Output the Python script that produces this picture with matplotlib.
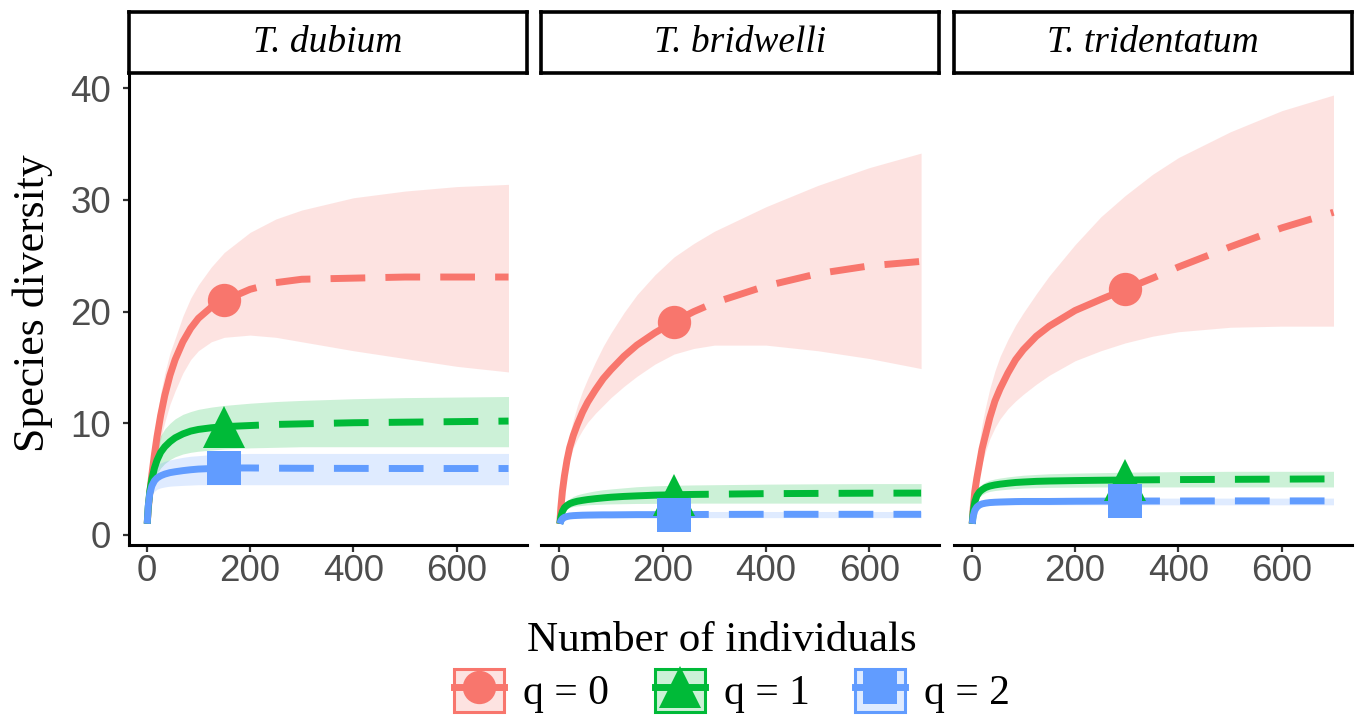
import matplotlib.pyplot as plt
from matplotlib.colors import to_rgb
from matplotlib.lines import Line2D
from matplotlib.patches import Patch

# ---- data ----
panels = ["T. dubium", "T. bridwelli", "T. tridentatum"]
q_labels = ["q = 0", "q = 1", "q = 2"]

# T. dubium
dub_x = [1, 3, 6, 10, 15, 20, 27, 35, 45, 55, 70, 85, 100, 125, 150, 200, 250, 300, 400, 500, 600, 700]
dub_obs = 150
dub_q0 = [1, 2.3, 3.8, 5.4, 7.2, 8.8, 10.7, 12.5, 14.3, 15.7, 17.3, 18.5, 19.4, 20.4, 21.0, 22.0, 22.6, 22.9, 23.0, 23.1, 23.1, 23.1]
dub_q0_lo = [1, 2.0, 3.2, 4.5, 5.9, 7.1, 8.6, 10.1, 11.7, 12.9, 14.5, 15.7, 16.5, 17.3, 17.7, 17.9, 17.7, 17.3, 16.5, 15.8, 15.1, 14.6]
dub_q0_hi = [1, 2.6, 4.3, 6.3, 8.7, 10.6, 12.7, 14.5, 16.3, 17.6, 19.6, 21.2, 22.4, 24.0, 25.3, 27.1, 28.3, 29.1, 30.2, 30.8, 31.2, 31.4]
dub_q1 = [1, 2.5, 3.9, 5.0, 6.0, 6.7, 7.4, 7.9, 8.35, 8.7, 9.05, 9.3, 9.45, 9.6, 9.7, 9.8, 9.9, 9.95, 10.05, 10.1, 10.15, 10.2]
dub_q1_lo = [1, 2.1, 3.1, 4.0, 4.9, 5.5, 6.0, 6.4, 6.75, 7.0, 7.25, 7.4, 7.5, 7.6, 7.7, 7.8, 7.85, 7.9, 7.9, 7.9, 7.9, 7.9]
dub_q1_hi = [1, 2.9, 4.7, 6.1, 7.3, 8.1, 8.9, 9.5, 10.0, 10.4, 10.8, 11.05, 11.25, 11.45, 11.6, 11.8, 11.95, 12.05, 12.2, 12.3, 12.35, 12.4]
dub_q2 = [1, 2.6, 3.7, 4.4, 4.85, 5.1, 5.3, 5.45, 5.58, 5.66, 5.76, 5.84, 5.9, 5.95, 6.0, 6.0, 5.98, 5.97, 5.96, 5.95, 5.95, 5.95]
dub_q2_lo = [1, 2.2, 3.1, 3.6, 3.9, 4.1, 4.22, 4.3, 4.37, 4.4, 4.44, 4.47, 4.5, 4.5, 4.5, 4.5, 4.5, 4.5, 4.5, 4.5, 4.5, 4.5]
dub_q2_hi = [1, 3.0, 4.4, 5.3, 5.85, 6.2, 6.45, 6.6, 6.72, 6.82, 6.95, 7.05, 7.1, 7.2, 7.25, 7.3, 7.3, 7.3, 7.3, 7.3, 7.3, 7.3]

# T. bridwelli
bri_x = [1, 3, 6, 10, 15, 20, 27, 35, 45, 55, 70, 85, 100, 125, 150, 185, 222, 260, 300, 400, 500, 600, 700]
bri_obs = 222
bri_q0 = [1, 2.4, 3.9, 5.3, 6.7, 7.8, 8.9, 9.9, 11.0, 11.9, 13.0, 14.0, 14.8, 16.0, 17.0, 18.1, 19.1, 20.0, 20.8, 22.3, 23.4, 24.1, 24.5]
bri_q0_lo = [1, 2.2, 3.5, 4.7, 5.9, 6.8, 7.8, 8.6, 9.4, 10.1, 10.9, 11.6, 12.3, 13.3, 14.2, 15.3, 16.2, 16.7, 17.0, 17.0, 16.5, 15.8, 14.9]
bri_q0_hi = [1, 2.6, 4.3, 6.0, 7.7, 9.0, 10.3, 11.6, 12.9, 14.0, 15.5, 16.9, 18.1, 19.9, 21.5, 23.3, 24.9, 26.1, 27.2, 29.4, 31.3, 32.9, 34.2]
bri_q1 = [1, 1.6, 2.1, 2.45, 2.65, 2.8, 2.92, 3.02, 3.1, 3.17, 3.25, 3.32, 3.38, 3.45, 3.5, 3.56, 3.6, 3.63, 3.65, 3.7, 3.72, 3.74, 3.75]
bri_q1_lo = [1, 1.45, 1.85, 2.15, 2.35, 2.45, 2.55, 2.6, 2.65, 2.7, 2.73, 2.76, 2.78, 2.8, 2.82, 2.83, 2.84, 2.85, 2.85, 2.85, 2.85, 2.85, 2.85]
bri_q1_hi = [1, 1.75, 2.35, 2.8, 3.05, 3.25, 3.45, 3.6, 3.72, 3.82, 3.95, 4.05, 4.12, 4.22, 4.32, 4.4, 4.45, 4.48, 4.5, 4.55, 4.58, 4.6, 4.6]
bri_q2 = [1, 1.25, 1.45, 1.58, 1.65, 1.7, 1.73, 1.75, 1.77, 1.78, 1.79, 1.8, 1.8, 1.81, 1.82, 1.82, 1.83, 1.83, 1.84, 1.85, 1.85, 1.85, 1.85]
bri_q2_lo = [1, 1.12, 1.28, 1.4, 1.46, 1.5, 1.52, 1.53, 1.54, 1.55, 1.55, 1.55, 1.55, 1.55, 1.55, 1.55, 1.55, 1.55, 1.55, 1.55, 1.55, 1.55, 1.55]
bri_q2_hi = [1, 1.38, 1.65, 1.82, 1.92, 1.98, 2.02, 2.05, 2.07, 2.08, 2.09, 2.1, 2.1, 2.1, 2.1, 2.1, 2.1, 2.1, 2.1, 2.1, 2.1, 2.1, 2.1]

# T. tridentatum
tri_x = [1, 3, 6, 10, 15, 20, 27, 35, 45, 55, 70, 85, 100, 125, 150, 200, 250, 297, 350, 400, 500, 600, 700]
tri_obs = 297
tri_q0 = [1, 2.4, 3.9, 5.1, 6.4, 7.7, 9.0, 10.5, 12.0, 13.1, 14.5, 15.7, 16.6, 17.8, 18.7, 20.1, 21.1, 22.0, 23.0, 24.0, 25.8, 27.5, 28.9]
tri_q0_lo = [1, 2.1, 3.3, 4.4, 5.5, 6.4, 7.5, 8.6, 9.6, 10.4, 11.3, 12.0, 12.6, 13.5, 14.3, 15.6, 16.5, 17.2, 17.8, 18.2, 18.6, 18.7, 18.7]
tri_q0_hi = [1, 2.7, 4.6, 6.6, 8.4, 9.9, 11.5, 13.1, 14.7, 16.0, 17.5, 18.8, 19.9, 21.6, 23.2, 26.0, 28.5, 30.4, 32.3, 33.8, 36.1, 38.0, 39.4]
tri_q1 = [1, 2.1, 2.95, 3.5, 3.85, 4.05, 4.25, 4.38, 4.48, 4.55, 4.63, 4.7, 4.74, 4.8, 4.83, 4.87, 4.9, 4.92, 4.94, 4.96, 4.98, 5.0, 5.02]
tri_q1_lo = [1, 1.9, 2.6, 3.1, 3.4, 3.6, 3.78, 3.9, 3.98, 4.03, 4.1, 4.15, 4.2, 4.23, 4.26, 4.28, 4.3, 4.3, 4.3, 4.3, 4.3, 4.3, 4.3]
tri_q1_hi = [1, 2.3, 3.3, 3.9, 4.3, 4.55, 4.75, 4.9, 5.02, 5.1, 5.2, 5.28, 5.35, 5.42, 5.48, 5.54, 5.58, 5.62, 5.65, 5.67, 5.7, 5.7, 5.7]
tri_q2 = [1, 1.7, 2.2, 2.5, 2.68, 2.78, 2.85, 2.9, 2.93, 2.95, 2.97, 2.99, 3.0, 3.0, 3.0, 3.02, 3.03, 3.03, 3.04, 3.04, 3.05, 3.05, 3.05]
tri_q2_lo = [1, 1.55, 1.95, 2.25, 2.45, 2.55, 2.62, 2.66, 2.7, 2.7, 2.7, 2.7, 2.7, 2.7, 2.7, 2.7, 2.7, 2.7, 2.7, 2.7, 2.7, 2.7, 2.7]
tri_q2_hi = [1, 1.85, 2.45, 2.75, 2.95, 3.05, 3.15, 3.2, 3.24, 3.27, 3.3, 3.3, 3.3, 3.3, 3.3, 3.3, 3.3, 3.3, 3.3, 3.3, 3.3, 3.3, 3.3]

colors = ["#F8766D", "#00BA38", "#619CFF"]
markers = ["o", "^", "s"]
msizes = [24, 30, 24]

panel_data = [
    (dub_x, dub_obs, [(dub_q0, dub_q0_lo, dub_q0_hi), (dub_q1, dub_q1_lo, dub_q1_hi), (dub_q2, dub_q2_lo, dub_q2_hi)]),
    (bri_x, bri_obs, [(bri_q0, bri_q0_lo, bri_q0_hi), (bri_q1, bri_q1_lo, bri_q1_hi), (bri_q2, bri_q2_lo, bri_q2_hi)]),
    (tri_x, tri_obs, [(tri_q0, tri_q0_lo, tri_q0_hi), (tri_q1, tri_q1_lo, tri_q1_hi), (tri_q2, tri_q2_lo, tri_q2_hi)]),
]

LW = 5.0
DASH = (5.0, 2.9)

fig = plt.figure(figsize=(13.56, 7.17), dpi=100)
W, H = 1356, 717
lefts = [128.6, 541.2, 953.6]
pw = 398
ax_bot = 1 - 545 / H
ax_h = (545 - 72.7) / H
strip_bot = 1 - 72.7 / H
strip_h = (72.7 - 12) / H

for i, (x, obs, curves) in enumerate(panel_data):
    ax = fig.add_axes([lefts[i] / W, ax_bot, pw / W, ax_h])
    k = x.index(obs)
    # ribbons first, then lines, then observed points
    for (y, lo, hi), c in zip(curves, colors):
        ax.fill_between(x, lo, hi, color=c, alpha=0.2, lw=0)
    for (y, lo, hi), c in zip(curves, colors):
        ax.plot(x[:k + 1], y[:k + 1], color=c, lw=LW, solid_capstyle="butt", solid_joinstyle="round")
        ax.plot(x[k:], y[k:], color=c, lw=LW, dashes=DASH, dash_capstyle="butt")
    for (y, lo, hi), c, m, ms in zip(curves, colors, markers, msizes):
        ax.plot([obs], [y[k]], marker=m, color=c, ms=ms, mew=0, ls="none")

    ax.set_xlim(-35, 735)
    ax.set_ylim(-0.9, 41.4)
    ax.set_xticks([0, 200, 400, 600])
    for s in ["top", "right"]:
        ax.spines[s].set_visible(False)
    ax.spines["bottom"].set_linewidth(2.2)
    ax.tick_params(axis="x", length=4.7, width=1.6, color="#333333", pad=1.5,
                   labelsize=26.5, labelcolor="#4D4D4D")
    if i == 0:
        ax.spines["left"].set_linewidth(2.2)
        ax.set_yticks([0, 10, 20, 30, 40])
        ax.tick_params(axis="y", length=4.5, width=1.6, color="#333333", pad=8,
                       labelsize=26.5, labelcolor="#4D4D4D")
    else:
        ax.spines["left"].set_visible(False)
        ax.set_yticks([])
    for lab in ax.get_xticklabels() + ax.get_yticklabels():
        lab.set_fontfamily("Liberation Sans")

    sax = fig.add_axes([lefts[i] / W, strip_bot, pw / W, strip_h])
    sax.set_xticks([])
    sax.set_yticks([])
    for s in sax.spines.values():
        s.set_linewidth(2.6)
        s.set_color("black")
    sax.text(0.5, 0.5, panels[i], ha="center", va="center", fontsize=27,
             family="Liberation Serif", style="italic", transform=sax.transAxes)

fig.text(0.024, 1 - 303 / H, "Species diversity", rotation=90, ha="center", va="center",
         fontsize=31.5, family="Liberation Serif")
fig.text(722 / W, 1 - 651 / H, "Number of individuals", ha="center", va="baseline",
         fontsize=31, family="Liberation Serif")

handles = []
for c, m, ms in zip(colors, markers, msizes):
    p = Patch(facecolor=(*to_rgb(c), 0.2), edgecolor=c, lw=2.2)
    l = Line2D([], [], color=c, lw=LW, marker=m, ms=ms, mew=0)
    handles.append((p, l))

fig.legend(handles, q_labels, loc="center", bbox_to_anchor=(0.54, 1 - 691 / H), ncol=3,
           frameon=False, prop={"family": "Liberation Serif", "size": 30},
           handlelength=1.2, handleheight=1.2, handletextpad=0.45, columnspacing=1.1,
           borderpad=0)

fig.savefig("out.png", dpi=100)
